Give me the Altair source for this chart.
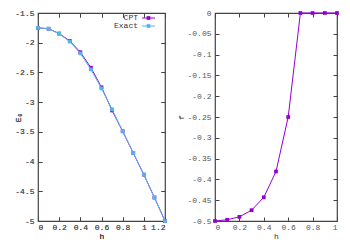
import altair as alt
import pandas as pd

# ---- data ----
h_left = [0.0, 0.1, 0.2, 0.3, 0.4, 0.5, 0.6, 0.7, 0.8, 0.9, 1.0, 1.1, 1.2]
e0_cpt = [-1.75, -1.765, -1.845, -1.97, -2.16, -2.42, -2.75, -3.14, -3.49, -3.855, -4.22, -4.605, -5.0]
e0_exact = [-1.75, -1.765, -1.85, -1.98, -2.18, -2.45, -2.77, -3.12, -3.49, -3.855, -4.22, -4.605, -5.0]

h_right = [0.0, 0.1, 0.2, 0.3, 0.4, 0.5, 0.6, 0.7, 0.8, 0.9, 1.0]
f_cpt = [-0.5, -0.497, -0.49, -0.474, -0.443, -0.381, -0.25, 0.0, 0.0, 0.0, 0.0]

left_x_ticks = [0, 0.2, 0.4, 0.6, 0.8, 1, 1.2]
left_y_ticks = [-1.5, -2, -2.5, -3, -3.5, -4, -4.5, -5]
right_x_ticks = [0, 0.2, 0.4, 0.6, 0.8, 1]
right_y_ticks = [0, -0.05, -0.1, -0.15, -0.2, -0.25, -0.3, -0.35, -0.4, -0.45, -0.5]

legend_labels = ["CPT", "Exact"]
colors = {"CPT": "#9400d3", "Exact": "#56b4e9"}

FONT = "Liberation Mono"
LBL = "datum.value + ''"

left_cpt = pd.DataFrame({"h": h_left, "v": e0_cpt})
left_exact = pd.DataFrame({"h": h_left, "v": e0_exact})
right_cpt = pd.DataFrame({"h": h_right, "v": f_cpt})


def panel(dfs, cols, xdom, ydom, xt, yt, ytitle, ytitle_x, w, h, legend=False):
    xs = alt.Scale(domain=xdom, nice=False, zero=False)
    ys = alt.Scale(domain=ydom, nice=False, zero=False)
    ax_b = alt.Axis(orient="bottom", values=xt, labelExpr=LBL, offset=-4, tickSize=4,
                    labelPadding=2, titlePadding=1)
    ax_l = alt.Axis(orient="left", values=yt, labelExpr=LBL, offset=-4, tickSize=4,
                    labelPadding=4, titleX=ytitle_x)
    ax_t = alt.Axis(orient="top", values=xt, labels=False, offset=-4, tickSize=4)
    ax_r = alt.Axis(orient="right", values=yt, labels=False, offset=-4, tickSize=4)
    layers = []
    for df, c in zip(dfs, cols):
        layers.append(alt.Chart(df).mark_line(color=c, strokeWidth=1).encode(
            x=alt.X("h:Q", scale=xs, axis=ax_b, title="h"),
            y=alt.Y("v:Q", scale=ys, axis=ax_l, title=ytitle)))
        layers.append(alt.Chart(df).mark_square(color=c, size=14, opacity=1).encode(
            x=alt.X("h:Q", scale=xs, axis=ax_t, title=None),
            y=alt.Y("v:Q", scale=ys, axis=ax_r, title=None)))
    if legend:
        for i, name in enumerate(legend_labels):
            yy = 5 + 8 * i
            c = colors[name]
            one = pd.DataFrame({"t": [name]})
            layers.append(alt.Chart(one).mark_text(
                align="right", baseline="middle", font=FONT, fontSize=8, color="#333").encode(
                text="t:N", x=alt.value(w - 27), y=alt.value(yy)))
            layers.append(alt.Chart(one).mark_rule(color=c, strokeWidth=1).encode(
                x=alt.value(w - 23), x2=alt.value(w - 10), y=alt.value(yy)))
            layers.append(alt.Chart(one).mark_square(color=c, size=14, opacity=1).encode(
                x=alt.value(w - 16.5), y=alt.value(yy)))
    return alt.layer(*layers).resolve_axis(x="independent", y="independent").properties(width=w, height=h)


left = panel([left_cpt, left_exact], [colors["CPT"], colors["Exact"]], [0, 1.2], [-5, -1.5],
             left_x_ticks, left_y_ticks, "E₀", -20, 127, 208, legend=True)
right = panel([right_cpt], [colors["CPT"]], [0, 1], [-0.5, 0],
              right_x_ticks, right_y_ticks, "f", -34, 122, 208)

chart = alt.hconcat(left, right, spacing=8).properties(
    padding={"left": 5, "top": 0, "right": 0, "bottom": 0},
    background="white"
).configure_view(stroke="#444", strokeWidth=1.2).configure_axis(
    labelFont=FONT, labelFontSize=8, labelColor="#555",
    titleFont=FONT, titleFontSize=8, titleColor="#333", titleFontWeight="normal",
    tickColor="#444", domain=False, grid=False
)

chart.save("out.html", embed_options={"renderer": "svg", "actions": False})
